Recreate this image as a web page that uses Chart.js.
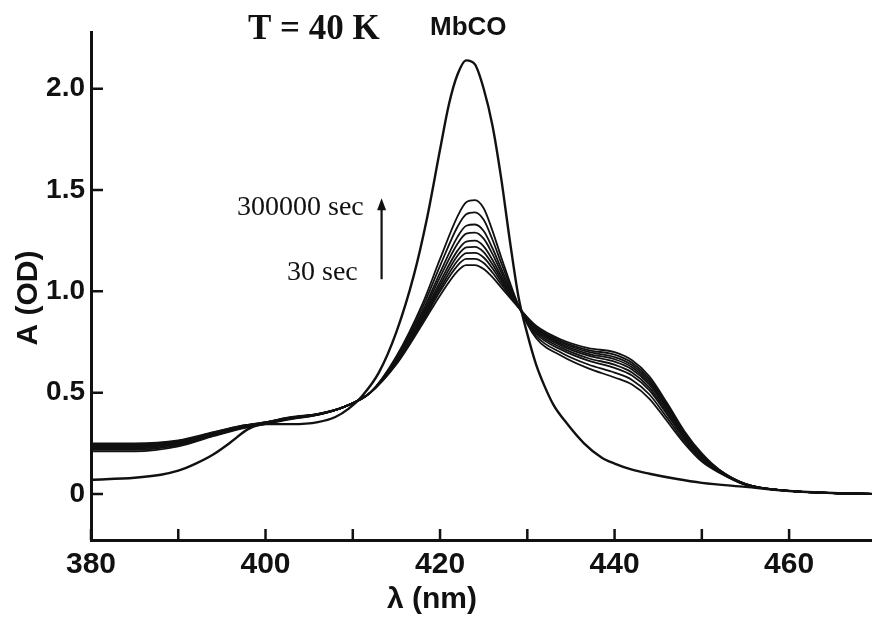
<!DOCTYPE html>
<html>
<head>
<meta charset="utf-8">
<script src="https://cdn.jsdelivr.net/npm/chart.js@4.4.1/dist/chart.umd.min.js"></script>
<style>
  html, body { margin: 0; padding: 0; background: #fff; }
  #wrap { width: 872px; height: 618px; }
</style>
</head>
<body>
<div id="wrap"><canvas id="c" width="872" height="618"></canvas></div>
<script>
// --- datos (λ en nm, A en OD) ---
const mbcoWavelengths = [380, 385, 388, 390, 392, 394, 396, 398, 400, 403, 406, 408, 409.5, 411, 413, 415, 417, 418.5, 420, 421, 422, 423, 424, 425, 426, 427, 428, 429, 430, 431, 432, 433, 434.5, 436.5, 438.5, 440, 442, 444, 447, 450, 455, 460, 465, 470];
const mbcoDark = [0.07, 0.08, 0.095, 0.115, 0.15, 0.195, 0.255, 0.32, 0.345, 0.345, 0.355, 0.38, 0.42, 0.48, 0.60, 0.80, 1.08, 1.36, 1.70, 1.92, 2.07, 2.14, 2.12, 2.00, 1.82, 1.56, 1.25, 0.97, 0.79, 0.64, 0.53, 0.44, 0.35, 0.25, 0.18, 0.15, 0.12, 0.10, 0.075, 0.055, 0.035, 0.015, 0.005, 0.0];

const wavelengths = [380, 385, 390, 394, 397, 400, 403, 406, 409, 412, 415, 418, 420, 422, 423, 424, 425, 426, 427, 429, 431, 434, 437, 440, 442, 444, 446, 448, 450, 452, 455, 460, 465, 470];
const s30 =     [0.25, 0.25, 0.265, 0.305, 0.335, 0.355, 0.38, 0.395, 0.43, 0.50, 0.64, 0.84, 0.98, 1.10, 1.13, 1.13, 1.11, 1.07, 1.02, 0.92, 0.83, 0.76, 0.72, 0.70, 0.66, 0.58, 0.45, 0.31, 0.20, 0.12, 0.05, 0.015, 0.005, 0.0];
const s100 =    [0.246, 0.246, 0.262, 0.303, 0.334, 0.354, 0.379, 0.395, 0.43, 0.50, 0.644, 0.85, 1.00, 1.127, 1.16, 1.16, 1.14, 1.093, 1.035, 0.921, 0.824, 0.752, 0.71, 0.688, 0.648, 0.569, 0.441, 0.304, 0.196, 0.119, 0.05, 0.015, 0.005, 0.0];
const s300 =    [0.242, 0.242, 0.259, 0.301, 0.332, 0.353, 0.378, 0.394, 0.43, 0.50, 0.648, 0.859, 1.014, 1.151, 1.189, 1.19, 1.167, 1.114, 1.049, 0.922, 0.819, 0.745, 0.701, 0.676, 0.637, 0.559, 0.433, 0.299, 0.192, 0.117, 0.049, 0.015, 0.005, 0.0];
const s1000 =   [0.239, 0.239, 0.257, 0.299, 0.331, 0.352, 0.377, 0.394, 0.43, 0.50, 0.651, 0.868, 1.03, 1.176, 1.217, 1.22, 1.194, 1.134, 1.062, 0.923, 0.813, 0.738, 0.692, 0.665, 0.626, 0.549, 0.425, 0.293, 0.189, 0.116, 0.049, 0.015, 0.005, 0.0];
const s3000 =   [0.235, 0.235, 0.254, 0.298, 0.329, 0.351, 0.376, 0.393, 0.43, 0.50, 0.655, 0.878, 1.047, 1.201, 1.246, 1.25, 1.222, 1.156, 1.076, 0.924, 0.808, 0.73, 0.683, 0.653, 0.615, 0.539, 0.416, 0.288, 0.185, 0.114, 0.048, 0.015, 0.005, 0.0];
const s10000 =  [0.23, 0.23, 0.25, 0.295, 0.328, 0.35, 0.375, 0.393, 0.43, 0.50, 0.66, 0.89, 1.07, 1.235, 1.285, 1.29, 1.26, 1.185, 1.095, 0.925, 0.80, 0.72, 0.67, 0.638, 0.60, 0.525, 0.405, 0.28, 0.18, 0.112, 0.048, 0.015, 0.005, 0.0];
const s30000 =  [0.225, 0.225, 0.246, 0.293, 0.326, 0.349, 0.374, 0.392, 0.43, 0.50, 0.665, 0.902, 1.092, 1.269, 1.324, 1.33, 1.298, 1.214, 1.114, 0.926, 0.792, 0.71, 0.658, 0.622, 0.585, 0.511, 0.394, 0.272, 0.175, 0.111, 0.047, 0.015, 0.005, 0.0];
const s100000 = [0.218, 0.218, 0.241, 0.289, 0.323, 0.347, 0.372, 0.391, 0.43, 0.50, 0.672, 0.921, 1.126, 1.319, 1.381, 1.39, 1.353, 1.256, 1.142, 0.928, 0.781, 0.695, 0.639, 0.599, 0.563, 0.491, 0.377, 0.261, 0.168, 0.108, 0.046, 0.015, 0.005, 0.0];
const s300000 = [0.21, 0.21, 0.235, 0.285, 0.32, 0.345, 0.37, 0.39, 0.43, 0.50, 0.68, 0.94, 1.16, 1.37, 1.44, 1.45, 1.41, 1.30, 1.17, 0.93, 0.77, 0.68, 0.62, 0.575, 0.54, 0.47, 0.36, 0.25, 0.16, 0.105, 0.045, 0.015, 0.005, 0.0];

const seriesLabels = ["30 sec", "100 sec", "300 sec", "1000 sec", "3000 sec", "10000 sec", "30000 sec", "100000 sec", "300000 sec"];
const seriesValues = [s30, s100, s300, s1000, s3000, s10000, s30000, s100000, s300000];

const xTickValues = [380, 390, 400, 410, 420, 430, 440, 450, 460];
const xTickLabels = ["380", "", "400", "", "420", "", "440", "", "460"];
const yTickValues = [0, 0.5, 1.0, 1.5, 2.0];
const yTickLabels = ["0", "0.5", "1.0", "1.5", "2.0"];

const INK = "#111";
const SANS = "'Liberation Sans'";
const SERIF = "'Liberation Serif'";

const toXY = (xs, ys) => xs.map((x, i) => ({ x, y: ys[i] }));

const datasets = [
  {
    label: "MbCO",
    data: toXY(mbcoWavelengths, mbcoDark),
    borderColor: INK,
    borderWidth: 2.4,
  },
  ...seriesValues.map((vals, i) => ({
    label: seriesLabels[i],
    data: toXY(wavelengths, vals),
    borderColor: INK,
    borderWidth: 1.8,
  })),
].map((d) => ({ ...d, pointRadius: 0, fill: false, cubicInterpolationMode: "monotone" }));

// marcas hacia dentro + textos
const decor = {
  id: "decor",
  afterDraw(chart) {
    const { ctx, chartArea: a, scales: { x, y } } = chart;
    ctx.save();
    ctx.strokeStyle = INK;
    ctx.lineWidth = 2.5;
    ctx.beginPath();
    xTickValues.forEach((v) => {
      const p = x.getPixelForValue(v);
      ctx.moveTo(p, a.bottom);
      ctx.lineTo(p, a.bottom - 11);
    });
    yTickValues.forEach((v) => {
      const p = y.getPixelForValue(v);
      ctx.moveTo(a.left, p);
      ctx.lineTo(a.left + 12, p);
    });
    ctx.stroke();

    // flecha del tiempo
    const ax = x.getPixelForValue(413.3);
    const y0 = y.getPixelForValue(1.06);
    const y1 = y.getPixelForValue(1.42);
    ctx.lineWidth = 2.2;
    ctx.beginPath();
    ctx.moveTo(ax, y0);
    ctx.lineTo(ax, y1);
    ctx.stroke();
    ctx.fillStyle = INK;
    ctx.beginPath();
    ctx.moveTo(ax, y1 - 8);
    ctx.lineTo(ax - 4.5, y1 + 4);
    ctx.lineTo(ax + 4.5, y1 + 4);
    ctx.closePath();
    ctx.fill();

    ctx.textBaseline = "middle";
    ctx.textAlign = "left";
    ctx.font = `bold 35px ${SERIF}`;
    ctx.fillText("T = 40 K", 248, 30);
    ctx.font = `bold 26px ${SANS}`;
    ctx.fillText("MbCO", 430, 28);
    ctx.font = `28px ${SERIF}`;
    ctx.fillText("300000 sec", 237, 208);
    ctx.fillText("30 sec", 287, 273);

    ctx.textAlign = "center";
    ctx.font = `bold 30px ${SANS}`;
    ctx.fillText("λ (nm)", 432, 600);
    ctx.translate(29, 298);
    ctx.rotate(-Math.PI / 2);
    ctx.fillText("A (OD)", 0, 0);
    ctx.restore();
  },
};

new Chart(document.getElementById("c"), {
  type: "line",
  data: { datasets },
  options: {
    responsive: false,
    animation: false,
    layout: { padding: { top: 32, right: 0, left: 0, bottom: 0 } },
    plugins: { legend: { display: false }, tooltip: { enabled: false } },
    scales: {
      x: {
        type: "linear",
        min: 380,
        max: 469.5,
        afterBuildTicks: (s) => { s.ticks = xTickValues.map((value) => ({ value })); },
        afterFit: (s) => { s.height = 78; },
        ticks: {
          color: INK,
          font: { family: "Liberation Sans", size: 30, weight: "bold" },
          padding: 7,
          maxRotation: 0,
          autoSkip: false,
          callback: (v) => xTickLabels[xTickValues.indexOf(v)] ?? "",
        },
        grid: { display: false, drawTicks: false },
        border: { display: true, color: INK, width: 3 },
      },
      y: {
        min: -0.227,
        max: 2.28,
        afterBuildTicks: (s) => { s.ticks = yTickValues.map((value) => ({ value })); },
        afterFit: (s) => { s.width = 91; },
        ticks: {
          color: INK,
          font: { family: "Liberation Sans", size: 28, weight: "bold" },
          padding: 6,
          autoSkip: false,
          callback: (v) => yTickLabels[yTickValues.indexOf(v)] ?? "",
        },
        grid: { display: false, drawTicks: false },
        border: { display: true, color: INK, width: 3 },
      },
    },
  },
  plugins: [decor],
});
</script>
</body>
</html>
